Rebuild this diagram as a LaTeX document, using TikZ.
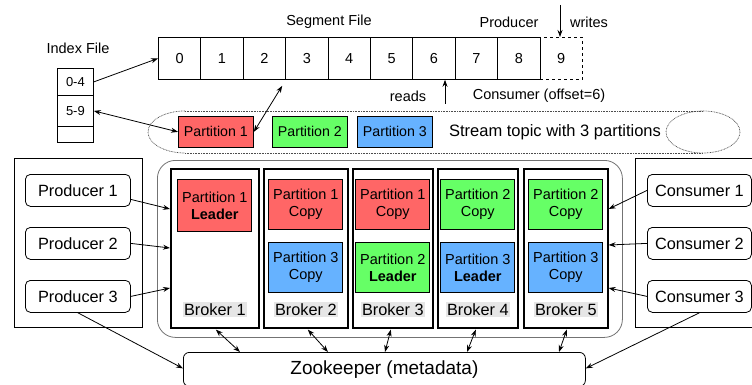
\documentclass[tikz,border=0pt]{standalone}
\usepackage{fontspec}
\setmainfont{Liberation Sans}
\usetikzlibrary{arrows.meta,calc}
\definecolor{pred}{HTML}{FF6666}
\definecolor{pgreen}{HTML}{66FF66}
\definecolor{pblue}{HTML}{66B2FF}
\definecolor{lblgray}{HTML}{E6E6E6}
\begin{document}
\begin{tikzpicture}[x=1pt,y=-1pt,
  line width=0.8pt,
  fa/.style={font=\fontsize{14.5}{17}\selectfont},
  cell/.style={draw, anchor=north west, inner sep=0pt, minimum width=42.4pt, minimum height=42pt, fa},
  icell/.style={draw, anchor=north west, inner sep=0pt, minimum width=36pt, font=\fontsize{13}{15}\selectfont},
  lbl/.style={inner sep=1pt, fa},
  part/.style={draw, anchor=north west, inner sep=0pt, minimum width=75pt, minimum height=31pt, font=\fontsize{14.2}{17}\selectfont},
  grp/.style={draw, anchor=north west, inner sep=0pt},
  client/.style={draw, rounded corners=5pt, anchor=north west, inner sep=0pt, minimum height=32pt, font=\fontsize{16.3}{19}\selectfont},
  broker/.style={draw, line width=1.6pt, anchor=north west, inner sep=0pt, minimum height=159pt},
  bpart/.style={draw, anchor=north, inner sep=0pt, minimum width=74pt, minimum height=50pt, align=center, fa},
  blbl/.style={fill=lblgray, inner sep=1.5pt, font=\fontsize{16.3}{19}\selectfont},
  arr/.style={-{Stealth[length=7pt,width=5pt]}},
  darr/.style={{Stealth[length=7pt,width=5pt]}-{Stealth[length=7pt,width=5pt]}},
  topic/.style={draw=black!70, line width=0.7pt, dash pattern=on 0.8pt off 0.8pt}
]
\useasboundingbox (0,0) rectangle (752,385);

% segment file
\foreach \i in {0,...,8} \node[cell] (c\i) at ({158+42.4*\i},37) {\i};
\node[cell, dashed] (c9) at ({158+42.4*9},37) {9};
\node[lbl] (segl) at (329,22) {Segment File};
\node[lbl] (prodl) at (509,22) {Producer};
\node[lbl] (wrl) at (589,22) {writes};
\node[lbl] (rdl) at (408,96) {reads};
\node[lbl] (conl) at (539,96) {Consumer (offset=6)};
\coordinate (wtop) at (560,5);
\draw[arr] (wtop) -- (wtop |- c9.north);
\coordinate (rbot) at (445,104);
\draw[arr] (rbot) -- (rbot |- c6.south);

% index file
\node[lbl] (idxl) at (78,48) {Index File};
\node[icell, minimum height=27pt] (i0) at (57,68) {0-4};
\node[icell, minimum height=31pt] (i1) at (57,95) {5-9};
\node[icell, minimum height=16pt] (i2) at (57,126) {};

% stream topic cylinder
\draw[topic] (185,111) -- (703,111);
\draw[topic] (185,153) -- (703,153);
\draw[topic] (185,111) arc[start angle=270, end angle=90, x radius=37, y radius=21];
\draw[topic] (703,132) ellipse[x radius=37, y radius=21];
\node[part, fill=pred] (p1) at (178,116) {Partition 1};
\node[part, fill=pgreen] (p2) at (272,116) {Partition 2};
\node[part, fill=pblue] (p3) at (357,116) {Partition 3};
\node[lbl, font=\fontsize{16.5}{19}\selectfont] (stl) at (555,132) {Stream topic with 3 partitions};

\draw[arr] (i0.east) -- (c0.west);
\draw[darr] (i1.east) -- (p1.west);
\draw[darr] ($(c3.south west)+(-3,6)$) -- (p1.east);

% producers
\node[grp, minimum width=128pt, minimum height=169pt] (pg) at (14,158) {};
\node[client, minimum width=105pt] (pr1) at (25,174) {Producer 1};
\node[client, minimum width=105pt] (pr2) at (25,227) {Producer 2};
\node[client, minimum width=105pt] (pr3) at (25,280) {Producer 3};

% consumers
\node[grp, minimum width=125pt, minimum height=169pt] (cg) at (635,158) {};
\node[client, minimum width=104pt] (cs1) at (647,174) {Consumer 1};
\node[client, minimum width=104pt] (cs2) at (647,227) {Consumer 2};
\node[client, minimum width=104pt] (cs3) at (647,280) {Consumer 3};

% broker group
\node[grp, draw=black!55, rounded corners=18pt, minimum width=465pt, minimum height=177pt] (bg) at (157,160) {};

% brokers
\node[broker, minimum width=88pt] (b1) at (170,168) {};
\node[broker, minimum width=84pt] (b2) at (263,168) {};
\node[broker, minimum width=80pt] (b3) at (352,168) {};
\node[broker, minimum width=80pt] (b4) at (437,168) {};
\node[broker, minimum width=84pt] (b5) at (523,168) {};
\foreach \k in {1,...,5} \node[blbl] (b\k l) at ($(b\k.south)+(0,-19)$) {Broker \k};

\node[bpart, fill=pred, minimum height=52pt] (b1a) at ($(b1.north)+(0,11)$) {Partition 1\\\textbf{Leader}};
\node[bpart, fill=pred] (b2a) at ($(b2.north)+(0,11)$) {Partition 1\\Copy};
\node[bpart, fill=pblue] (b2b) at ($(b2.north)+(0,74)$) {Partition 3\\Copy};
\node[bpart, fill=pred] (b3a) at ($(b3.north)+(0,11)$) {Partition 1\\Copy};
\node[bpart, fill=pgreen] (b3b) at ($(b3.north)+(0,74)$) {Partition 2\\\textbf{Leader}};
\node[bpart, fill=pgreen] (b4a) at ($(b4.north)+(0,11)$) {Partition 2\\Copy};
\node[bpart, fill=pblue] (b4b) at ($(b4.north)+(0,74)$) {Partition 3\\\textbf{Leader}};
\node[bpart, fill=pgreen] (b5a) at ($(b5.north)+(0,11)$) {Partition 2\\Copy};
\node[bpart, fill=pblue] (b5b) at ($(b5.north)+(0,74)$) {Partition 3\\Copy};

% zookeeper
\node[grp, rounded corners=6pt, minimum width=402pt, minimum height=34pt, font=\fontsize{19}{22}\selectfont] (zk) at (183,352) {Zookeeper (metadata)};

% producer arrows
\draw[arr] ($(pr1.east)+(0,9)$) -- ($(b1.north west)+(0,41)$);
\draw[arr] (pr2.east) -- ($(b1.north west)+(0,80)$);
\draw[arr] (pr3.east) -- ($(b1.north west)+(0,120)$);
\draw[arr] (pr3.south) -- ($(zk.west)+(0,-1)$);

% consumer arrows
\draw[arr] (cs1.west) -- ($(b5.north east)+(0,41)$);
\draw[arr] (cs2.west) -- ($(b5.north east)+(0,77)$);
\draw[arr] (cs3.west) -- ($(b5.north east)+(0,120)$);
\draw[arr] (cs3.south) -- ($(zk.east)+(0,-1)$);

% broker - zookeeper
\draw[darr] ($(b1.south)+(1,1)$) -- ($(zk.north west)+(57,0)$);
\draw[darr] ($(b2.south)+(2,1)$) -- ($(zk.north west)+(145,0)$);
\draw[darr] ($(b3.south)+(-2,1)$) -- ($(zk.north west)+(202,0)$);
\draw[darr] ($(b4.south)+(-2,1)$) -- ($(zk.north west)+(284,0)$);
\draw[darr] ($(b5.south)+(1,1)$) -- ($(zk.north west)+(376,0)$);
\end{tikzpicture}
\end{document}
